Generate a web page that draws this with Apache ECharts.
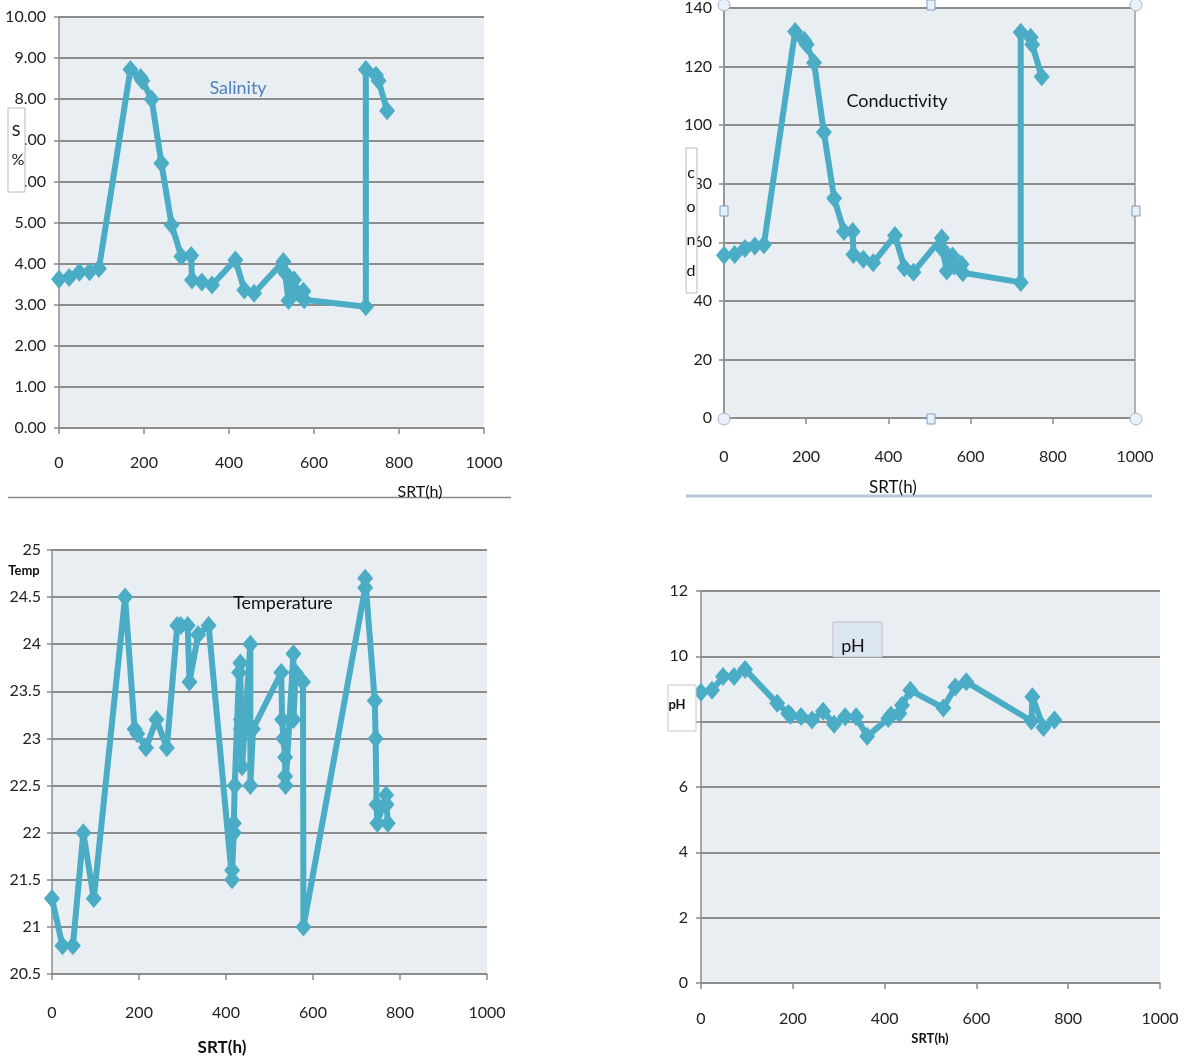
<!DOCTYPE html>
<html><head><meta charset="utf-8">
<script src="https://cdn.jsdelivr.net/npm/echarts@6/dist/echarts.min.js"></script>
<style>html,body{margin:0;padding:0;background:#fff}#c{width:1184px;height:1059px}</style>
</head><body><div id="c"></div>
<script>
// ---- Data (SRT hours, value) ----
const salX = [0,24,48,72,94,168,192,196,218,241,265,288,311,313,336,360,415,436,459,528,532,540,553,560,575,577,722,722,746,752,772];
const salY = [3.62,3.66,3.79,3.80,3.88,8.72,8.53,8.45,8.00,6.44,4.94,4.17,4.20,3.60,3.55,3.48,4.09,3.36,3.28,4.05,3.78,3.10,3.60,3.30,3.33,3.12,2.95,8.72,8.58,8.45,7.72];

const conX = [0,26,51,75,97,173,195,201,219,243,268,292,313,315,339,363,416,439,461,530,532,542,556,560,578,581,722,722,746,750,773];
const conY = [55.6,55.8,57.9,58.7,59.2,132,129,127.5,121.3,97.6,75.0,63.7,63.7,55.8,54.2,53.0,62.3,51.3,49.8,61.5,57.5,50.2,55.3,51.9,52.5,49.6,46.3,131.7,130.0,127.5,116.5];

const tmpX = [0,24,48,72,96,168,190,196,216,240,264,288,296,312,316,336,360,414,414,418,418,420,430,433,434,434,437,456,456,462,527,529,532,536,536,537,555,555,560,577,578,720,720,742,744,746,748,768,769,772];
const tmpY = [21.3,20.8,20.8,22.0,21.3,24.5,23.1,23.05,22.9,23.2,22.9,24.2,24.2,24.2,23.6,24.1,24.2,21.5,21.6,22.0,22.1,22.5,23.7,23.8,23.2,23.1,22.7,24.0,22.5,23.1,23.7,23.2,23.0,22.8,22.6,22.5,23.9,23.2,23.7,23.6,21.0,24.6,24.7,23.4,23.0,22.3,22.1,22.4,22.3,22.1];

const phX = [0,24,48,72,96,166,190,195,218,242,266,290,314,338,362,408,414,432,438,456,528,554,578,720,722,746,770];
const phY = [8.9,8.96,9.38,9.38,9.6,8.56,8.25,8.2,8.16,8.05,8.32,7.92,8.15,8.15,7.55,8.1,8.2,8.25,8.5,8.96,8.42,9.06,9.22,8.02,8.76,7.82,8.05];

// tick settings
const xTicks = {min:0,max:1000,interval:200};
const salTicks = {min:0,max:10,interval:1};
const conTicks = {min:0,max:140,interval:20};
const tmpTicks = {min:20.5,max:25,interval:0.5};
const phTicks = {min:0,max:12,interval:2};

const pairs = (xs, ys) => xs.map((x,i)=>[x, ys[i]]);

const FONT = 'Lato,"Open Sans",sans-serif';
const LINE = '#4BACC6';
const GRIDC = '#8c8c8c';
const BG = '#E8EEF2';

const grids = [
  {left:59, top:17, width:425, height:411},
  {left:724, top:5, width:411, height:413},
  {left:52, top:550, width:435, height:424},
  {left:701, top:591, width:459, height:392}
];
const xm = [27, 31, 31, 28];
const ym = [13, 12, 11, 13];
const yt = [salTicks, conTicks, tmpTicks, phTicks];
const yfmt = [v=>v.toFixed(2), v=>String(v), v=>String(v), v=>String(v)];

const option = {
  animation:false,
  textStyle:{fontFamily:FONT},
  grid: grids.map((g,i)=>Object.assign({show:true, backgroundColor:BG, borderWidth: i===1?1.5:0, borderColor:'#9a9a9a'}, g)),
  xAxis: grids.map((g,i)=>Object.assign({
    type:'value', gridIndex:i,
    axisLine:{show:true, onZero:false, lineStyle:{color:'#8c8c8c', width:1.5}},
    axisTick:{show:true, inside:false, length:6, lineStyle:{color:'#8c8c8c', width:1.5}},
    splitLine:{show:false},
    axisLabel:{color:'#222', fontSize:16, margin:xm[i], fontFamily:FONT, formatter:v=>String(v)}
  }, xTicks)),
  yAxis: grids.map((g,i)=>Object.assign({
    type:'value', gridIndex:i,
    axisLine:{show:true, lineStyle:{color:'#8c8c8c', width:1.5}},
    axisTick:{show:true, length:5, lineStyle:{color:'#8c8c8c', width:1.5}},
    splitLine:{show:true, lineStyle:{color:GRIDC, width:1.8}},
    axisLabel:{color:'#222', fontSize:16, margin:ym[i], fontFamily:FONT, formatter:yfmt[i]}
  }, yt[i])),
  series: [pairs(salX,salY), pairs(conX,conY), pairs(tmpX,tmpY), pairs(phX,phY)].map((d,i)=>({
    type:'line', xAxisIndex:i, yAxisIndex:i, data:d,
    symbol:'diamond', symbolSize:[16,19], showSymbol:true,
    lineStyle:{color:LINE, width:6}, itemStyle:{color:LINE},
    z:3
  })),
  graphic: []
};

const G = option.graphic;
function txt(x,y,t,opts){G.push({type:'text', x, y, z:20, style:Object.assign({text:t, font:'16px '+FONT, fill:'#111', textAlign:'center', textVerticalAlign:'middle'}, opts||{})});}
function rect(x,y,w,h,fill,stroke,lw){G.push({type:'rect', z:15, shape:{x,y,width:w,height:h}, style:{fill, stroke, lineWidth:lw||1}});}
function line(x1,y1,x2,y2,stroke,lw){G.push({type:'line', z:15, shape:{x1,y1,x2,y2}, style:{stroke, lineWidth:lw}});}

// Panel 1
txt(238,88,'Salinity',{fill:'#4F81BD', font:'18px '+FONT});
rect(8,108,17,84,'#fff','#bbb',1);
txt(16,131,'S',{font:'16px '+FONT});
txt(18,160,'%',{font:'16px '+FONT});
txt(420,492,'SRT(h)',{font:'16px '+FONT});
line(8,497.5,511,497.5,'#888',1.5);

// Panel 2
txt(897,101,'Conductivity',{font:'18px '+FONT});
rect(686,148,11,145,'#fff','#bbb',1);
txt(691,173,'c',{font:'16px '+FONT});
txt(691,207,'o',{font:'16px '+FONT});
txt(691,240,'n',{font:'16px '+FONT});
txt(691,271,'d',{font:'16px '+FONT});
txt(893,488,'SRT(h)',{font:'17px '+FONT});
line(686,496,1152,496,'#B9C8DA',3);
[[724,5],[1136,5],[724,419],[1136,419]].forEach(p=>G.push({type:'circle', z:16, shape:{cx:p[0],cy:p[1],r:6}, style:{fill:'#E9F0F7', stroke:'#9FB6CE', lineWidth:1}}));
[[931,5],[931,419],[724,211],[1136,211]].forEach(p=>rect(p[0]-4,p[1]-5,8,10,'#E9F0F7','#7F9FC2',1));

// Panel 3
txt(283,603,'Temperature',{font:'18px '+FONT});
txt(24,571,'Temp',{font:'bold 13px '+FONT});
txt(222,1048,'SRT(h)',{font:'bold 17px '+FONT});

// Panel 4
rect(833,622,49,35,'#DCE6F2','#C0C0C0',1);
txt(853,646,'pH',{font:'18px '+FONT, textAlign:'center'});
rect(668,685,28,46,'#fff','#C8C8C8',1);
txt(677,705,'pH',{font:'bold 13px '+FONT});
txt(930,1039,'SRT(h)',{font:'bold 13px '+FONT});

const chart = echarts.init(document.getElementById('c'), null, {renderer:'canvas'});
chart.setOption(option);
</script>
</body></html>
